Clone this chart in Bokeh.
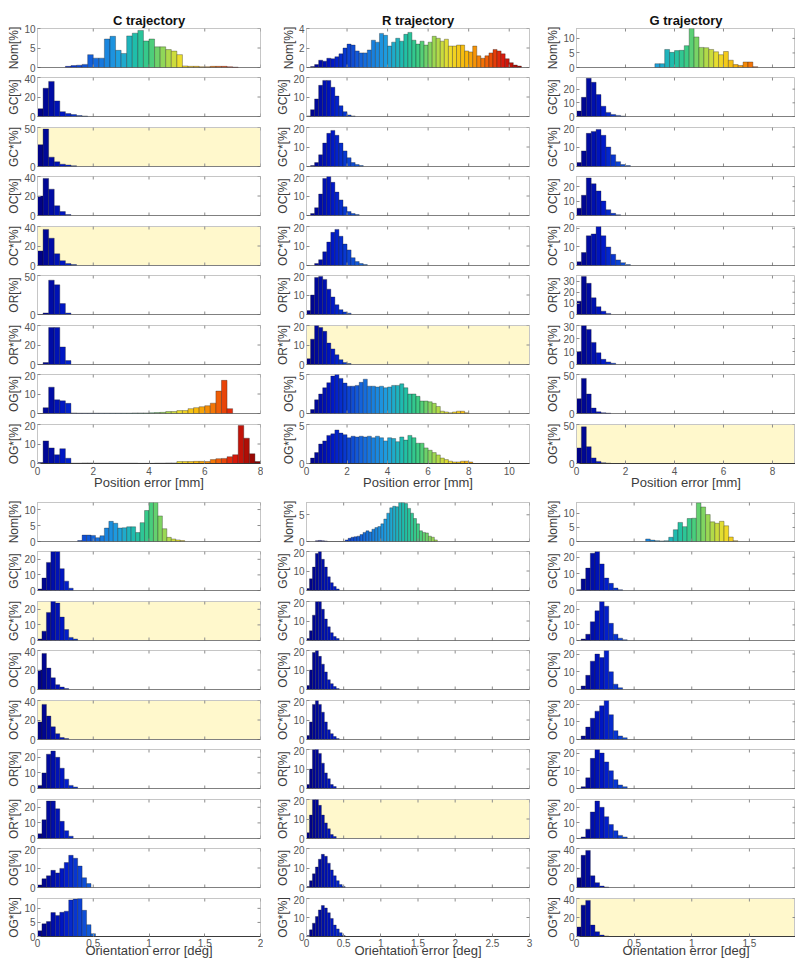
import math
from bokeh.plotting import figure
from bokeh.layouts import column, row
from bokeh.models import Range1d, FixedTicker, ColumnDataSource, Span
from bokeh.embed import file_html
from bokeh.resources import INLINE

# ---------------- labels ----------------
ROW_LABELS = ["Nom[%]", "GC[%]", "GC*[%]", "OC[%]", "OC*[%]", "OR[%]", "OR*[%]", "OG[%]", "OG*[%]"]
TITLES = ["C trajectory", "R trajectory", "G trajectory"]
POS_XLABEL = "Position error [mm]"
ORI_XLABEL = "Orientation error [deg]"

POS_BIN = 0.2
ORI_BIN = 0.04

# ---------------- Position error, C trajectory ----------------
C_POS_NOM = [0.3, 0.5, 0.6, 0.8, 3.3, 2.4, 2.4, 7.3, 8.0, 4.4, 3.6, 8.1, 8.8, 9.5, 6.8, 7.3, 5.3, 5.3, 4.6, 4.2, 3.3,
             0.4, 0.3, 0.3, 0.2, 0.2, 0.3, 0.3, 0.3, 0.2, 0.1]
C_POS_GC = [8, 29, 36, 16, 5, 3, 2, 1, 0.5]
C_POS_GCS = [28, 48, 12, 6, 3, 2, 1]
C_POS_OC = [20, 38, 27, 10, 4, 1]
C_POS_OCS = [15, 37, 28, 12, 5, 2, 1]
C_POS_OR = [0, 2, 44, 38, 14, 2]
C_POS_ORS = [0, 2, 38, 38, 18, 4]
C_POS_OG = [0, 3, 13.5, 7, 6.5, 5.2, 0.3, 0.2, 0.2, 0.2, 0.2, 0.2, 0.2, 0.2, 0.2, 0.2, 0.2,
            0.3, 0.3, 0.3, 0.4, 0.5, 0.6, 1.0, 1.0, 1.5, 1.5, 2.5, 3.0, 3.5, 4.0, 5.3, 11.5, 17, 2.5]
C_POS_OGS = [0.5, 11.6, 8, 4.5, 7.6, 2.7, 0.2, 0.2, 0.3, 0.3, 0.2, 0.2, 0.2, 0.2, 0.2, 0.2, 0.2, 0.2, 0.1,
             0.1, 0.1, 0.2, 0.2, 0.3, 0.3, 1.0, 1.0, 1.0, 1.1, 1.1, 1.0, 2.0, 2.5, 2.6, 3.5, 4.5, 19.5, 13, 5, 1]
C_POS_START = [1.0, 0, 0, 0, 0, 0, 0, 0, 0]
C_POS_YMAX = [10, 40, 50, 40, 40, 50, 40, 20, 20]
C_POS_YSTEP = [5, 20, 50, 20, 20, 50, 20, 10, 10]

# ---------------- Position error, R trajectory ----------------
R_POS_NOM = [0.1, 0.3, 0.75, 0.65, 0.95, 0.9, 1.1, 1.4, 2.0, 2.4, 2.3, 1.7, 1.5, 1.5, 1.8,
             2.8, 2.6, 3.5, 3.3, 2.2, 2.6, 3.0, 2.7, 3.4, 3.6,
             2.8, 2.4, 2.7, 2.3, 2.6, 3.2, 3.0, 2.7, 2.9, 2.2,
             2.2, 2.3, 2.3, 1.7, 1.6, 2.2, 1.2, 0.95, 1.2, 1.5,
             1.85, 1.7, 1.4, 0.9, 0.5, 0.25, 0.15]
R_POS_GC = [0.3, 3.5, 9, 16, 18.5, 18.5, 15, 10.5, 5.5, 2.5, 0.8, 0.3]
R_POS_GCS = [0.5, 2, 6, 12, 17, 18.5, 16, 12, 8, 4.5, 2, 1, 0.5]
R_POS_OC = [1, 4, 11, 19, 20, 17, 12, 8, 4.5, 2, 1, 0.5]
R_POS_OCS = [1, 3, 7, 12, 17, 18.5, 15, 11, 8, 4, 2, 1, 0.5]
R_POS_OR = [2, 10, 19, 19.5, 18, 13, 9, 5, 2.5, 1.3, 0.7]
R_POS_ORS = [3, 13, 20, 19, 17, 11, 8, 5, 2.5, 1, 0.5]
R_POS_OG = [0.5, 1.75, 2.5, 3.3, 3.95, 4.8, 5.0, 4.5, 3.9, 3.5,
            3.5, 3.6, 4.0, 4.4, 3.5, 3.5, 3.4, 3.5, 3.3, 3.4,
            3.6, 3.6, 3.8, 3.3, 2.5, 2.5, 2.2, 1.6, 1.6, 1.5,
            1.3, 0.9, 0.3, 0.2, 0.1, 0.2, 0.3, 0.3, 0.1]
R_POS_OGS = [0.7, 1.4, 2.5, 2.9, 3.6, 3.8, 4.3, 3.9, 3.7, 3.3,
             3.5, 3.4, 3.5, 3.4, 3.5, 3.3, 3.5, 3.3, 2.9, 3.3,
             3.2, 2.8, 3.4, 3.0, 3.6, 3.3, 2.6, 2.6, 2.0, 1.7,
             1.4, 1.1, 0.7, 0.5, 0.3, 0.2, 0.2, 0.3, 0.3, 0.2]
R_POS_START = [0.2, 0, 0.2, 0.2, 0.4, 0, 0, 0.2, 0.2]
R_POS_YMAX = [4, 20, 20, 20, 20, 20, 20, 5, 5]
R_POS_YSTEP = [2, 10, 10, 10, 10, 10, 10, 5, 5]

# ---------------- Position error, G trajectory ----------------
G_POS_NOM = [1.3, 1.3, 6.2, 5.2, 5.8, 5.9, 7.5, 13.4, 10.5, 6.9, 6.8, 6.2, 5.4, 4.4, 5.5, 2.5, 1.0, 0.7, 1.9, 1.9, 0.3]
G_POS_GC = [4, 14, 28, 25, 16, 7.5, 3, 1.5, 0.8, 0.3]
G_POS_GCS = [2, 8, 17, 18, 19, 16, 10, 6, 2.5, 1, 0.5]
G_POS_OC = [5, 14, 26, 22, 17, 10, 4, 1.5, 0.5]
G_POS_OCS = [2, 7, 16, 17, 21, 16, 10, 6, 3, 1.5, 0.5]
G_POS_OR = [12, 34, 28, 15, 7, 3, 1]
G_POS_ORS = [10, 30, 27, 17, 9, 4, 2, 1]
G_POS_OG = [19, 45, 25, 7, 2.2, 1, 0.5]
G_POS_OGS = [20, 47, 21.6, 7.2, 2.7, 1, 0.5]
G_POS_START = [3.2, 0, 0, 0, 0, 0, 0, 0, 0]
G_POS_YMAX = [13.4, 28.5, 20, 27, 21, 35, 30, 50, 50]
G_POS_YSTEP = [5, 10, 10, 10, 10, 10, 10, 50, 50]

# ---------------- Orientation error, C trajectory ----------------
C_ORI_NOM = [0.3, 2, 2, 1.9, 1.2, 1.8, 4.2, 6.3, 5.7, 4.2, 4.3, 4.6, 4.6, 2.8, 5.9, 9.7, 12.2, 12.2, 8, 4, 1.3, 0.8, 0.5, 0.3]
C_ORI_GC = [1, 8, 18, 25, 25, 14, 6, 1.5]
C_ORI_GCS = [1, 6, 18, 26, 24, 15, 7, 2, 1]
C_ORI_OC = [20, 37, 22, 12, 5, 2.5, 1]
C_ORI_OCS = [18, 36, 24, 13, 6, 2, 1]
C_ORI_OR = [2, 10, 22, 24, 20, 13, 6, 2, 1]
C_ORI_ORS = [3, 12, 24, 24, 19, 11, 5, 1.5]
C_ORI_OG = [1.3, 4.5, 6, 8.8, 7.5, 9.8, 12.8, 16.5, 15, 11, 5, 2]
C_ORI_OGS = [2, 4.5, 5.3, 8.5, 7.5, 8.6, 9, 13, 13.3, 13.5, 9.3, 4.2, 1]
C_ORI_START = [0.36, 0, 0, 0, 0, 0, 0, 0, 0]
C_ORI_YMAX = [12.2, 25, 25, 40, 40, 25, 25, 20, 13.5]
C_ORI_YSTEP = [5, 10, 10, 20, 20, 10, 10, 10, 5]

# ---------------- Orientation error, R trajectory ----------------
R_ORI_NOM = [0.15, 0.2, 0.15, 0.1, 0, 0, 0, 0, 0, 0,
             0.3, 0.6, 0.8, 0.9, 1.0, 1.3, 1.7, 2.0, 1.8, 2.3,
             2.6, 2.8, 3.3, 4.2, 5.3, 6.3, 6.6, 6.5, 7.3, 7.3,
             7.1, 6.2, 5.3, 4.3, 3.3, 2.0, 1.7, 1.6, 1.0, 0.8, 0.3]
R_ORI_GC = [1, 6, 12, 19, 20, 16, 12, 7, 4, 2, 0.8]
R_ORI_GCS = [1, 5, 13, 20, 20, 16, 11, 7, 4, 2, 1]
R_ORI_OC = [2, 10, 19, 20, 17, 13, 9, 5, 3, 1.5, 0.5]
R_ORI_OCS = [2, 9, 18, 20, 18, 14, 9, 5, 3, 1.5, 0.5]
R_ORI_OR = [2, 10, 20, 21, 18, 13, 8, 5, 2, 1]
R_ORI_ORS = [3, 12, 20, 20, 17, 12, 8, 5, 2, 1]
R_ORI_OG = [0.5, 3.5, 7, 10.5, 14.5, 17, 16, 12.5, 9, 6, 3.5, 1.5, 0.5]
R_ORI_OGS = [0.5, 3.5, 7, 10.5, 14, 16.3, 15, 12.5, 9.5, 6, 4, 2, 0.5]
R_ORI_START = [0.12, 0, 0, 0, 0, 0, 0, 0, 0]
R_ORI_YMAX = [7.3, 20, 20, 20, 20, 20, 20, 20, 20]
R_ORI_YSTEP = [5, 10, 10, 10, 10, 10, 10, 10, 10]

# ---------------- Orientation error, G trajectory ----------------
G_ORI_NOM = [0.9, 0.5, 0.3, 0.2, 0.3, 1.5, 4.2, 6.8, 5.3, 8.2, 8.3, 13.8, 12.3, 9.6, 7.0, 6.5, 7.2, 5.6, 1.6, 0.3]
G_ORI_GC = [0.5, 7, 13.5, 22.5, 23.5, 16, 7.5, 4.3, 1.5, 0.5]
G_ORI_GCS = [1, 4, 12, 19, 25, 22, 11, 4, 1.5, 0.5]
G_ORI_OC = [2, 8, 16, 20, 18, 22, 10, 3, 1]
G_ORI_OCS = [2, 7, 12, 16, 19, 22, 14, 5, 2, 1]
G_ORI_OR = [1, 6, 17, 22, 20, 15, 10, 5, 2, 1]
G_ORI_ORS = [1, 6, 17, 24, 20, 14, 9, 5, 2, 1]
G_ORI_OG = [10, 33, 38, 12, 5, 1.5, 0.5]
G_ORI_OGS = [10, 33, 38, 12, 5, 1.5, 0.5]
G_ORI_START = [0.60, 0, 0.04, 0.04, 0.04, 0.04, 0.04, 0, 0]
G_ORI_YMAX = [13.9, 23.5, 25, 22, 22, 22, 25, 40, 40]
G_ORI_YSTEP = [5, 10, 10, 10, 10, 10, 10, 20, 20]

# highlighted (yellow) panels: row indices per column
C_POS_HL = [2, 4]
R_POS_HL = [6]
G_POS_HL = [8]
C_ORI_HL = [2, 4]
R_ORI_HL = [6]
G_ORI_HL = [8]

POS_XMAX = [8, 11, 8.94]
ORI_XMAX = [2, 3, 1.9]
POS_CMAX = [8, 11, 9]
ORI_CMAX = [2, 3, 2]
POS_XTICKS = [[0, 2, 4, 6, 8], [0, 2, 4, 6, 8, 10], [0, 2, 4, 6, 8]]
ORI_XTICKS = [[0, 0.5, 1, 1.5, 2], [0, 0.5, 1, 1.5, 2, 2.5, 3], [0, 0.5, 1, 1.5]]

# colour map anchors (jet-like, as rendered in the reference)
CMAP_T = [0.0, 0.12, 0.25, 0.36, 0.44, 0.5, 0.57, 0.64, 0.72, 0.8, 0.88, 1.0]
CMAP_C = ["#00007f", "#0018c8", "#1466dc", "#1f9fe0", "#1fbfa8", "#3ccc84", "#9ad854",
          "#eede2c", "#f8b408", "#f26a06", "#dc1a0c", "#7c0000"]

# ---------------- layout constants ----------------
FONT = "Liberation Sans"
FRAME_H = 39
COL_W = [263, 270, 262]
COL_BL = [37, 43, 43]
COL_BR = [3, 4, 0]
ROW_TOP = [28, 3, 3, 3, 3, 3, 3, 3, 3, 9, 3, 3, 3, 3, 3, 3, 3, 3]
ROW_BOT = [7, 8, 7, 8, 7, 8, 7, 8, 30, 7, 8, 7, 8, 7, 8, 7, 8, 23]
YELLOW = "#fff8cc"
TICK_COLOR = "#8c8c8c"


def hex2rgb(h):
    return [int(h[i:i + 2], 16) for i in (1, 3, 5)]


def cmap(t):
    t = min(max(t, 0.0), 1.0)
    for i in range(len(CMAP_T) - 1):
        if t <= CMAP_T[i + 1]:
            f = (t - CMAP_T[i]) / (CMAP_T[i + 1] - CMAP_T[i])
            a, b = hex2rgb(CMAP_C[i]), hex2rgb(CMAP_C[i + 1])
            return "#%02x%02x%02x" % tuple(int(round(a[k] + (b[k] - a[k]) * f)) for k in range(3))
    return CMAP_C[-1]


def fmt(v):
    return "%g" % v


def make_panel(vals, start, binw, xmax, cmax, ymax, ystep, label, yellow, col, ri,
               xticks, title=None, xlabel=None):
    h = ROW_TOP[ri] + FRAME_H + ROW_BOT[ri]
    p = figure(width=COL_W[col], height=h, x_range=Range1d(0, xmax), y_range=Range1d(0, ymax),
               output_backend="svg", toolbar_location=None, title=title,
               min_border_left=COL_BL[col], min_border_right=COL_BR[col],
               min_border_top=ROW_TOP[ri], min_border_bottom=ROW_BOT[ri],
               background_fill_color=YELLOW if yellow else "white",
               border_fill_color="white", outline_line_color="#c6c6c6")
    p.xgrid.visible = False
    p.ygrid.visible = False

    n = len(vals)
    left = [start + i * binw for i in range(n)]
    right = [l + binw for l in left]
    colors = [cmap((l + binw / 2) / cmax) for l in left]
    src = ColumnDataSource(dict(left=left, right=right, top=vals, bottom=[0] * n, color=colors))
    p.quad(left="left", right="right", top="top", bottom="bottom", source=src,
           fill_color="color", line_color="#1c1c1c", line_alpha=0.55, line_width=0.6)

    yt = []
    v = 0
    while v <= ymax + 1e-9:
        yt.append(v)
        v += ystep
    yticker = FixedTicker(ticks=yt)
    xticker = FixedTicker(ticks=xticks)

    ya = p.yaxis[0]
    ya.ticker = yticker
    ya.axis_label = label
    ya.axis_label_text_font = FONT
    ya.axis_label_text_font_size = "12px"
    ya.axis_label_text_font_style = "normal"
    ya.axis_label_text_color = "#3c3c3c"
    ya.axis_label_standoff = 0
    ya.major_label_text_font = FONT
    ya.major_label_text_font_size = "10px"
    ya.major_label_text_color = "#555555"
    ya.major_label_standoff = 2
    ya.major_tick_in = 3
    ya.major_tick_out = 0
    ya.minor_tick_line_color = None
    ya.major_tick_line_color = TICK_COLOR
    ya.axis_line_color = "#c6c6c6"
    ya.major_label_overrides = {t: fmt(t) for t in yt}

    xa = p.xaxis[0]
    if xlabel is None:
        xa.visible = False
        p.add_layout(Span(location=0, dimension="width", line_color="#3a3a3a", line_width=1.2))
        # inner tick marks on the bottom edge
        p.scatter(x=xticks, y=[0] * len(xticks), marker="dash", angle=math.pi / 2, size=6,
                  line_color=TICK_COLOR, line_width=1)
    else:
        xa.ticker = xticker
        xa.major_tick_in = 3
        xa.major_tick_out = 0
        xa.minor_tick_line_color = None
        xa.major_tick_line_color = TICK_COLOR
        xa.axis_line_color = "#3a3a3a"
        xa.axis_line_width = 1.2
        xa.major_label_text_font = FONT
        xa.major_label_text_font_size = "10px"
        xa.major_label_text_color = "#555555"
        xa.major_label_standoff = 3 if ri == 8 else 2
        xa.major_label_overrides = {t: fmt(t) for t in xticks}
        xa.axis_label = xlabel
        xa.axis_label_text_font = FONT
        xa.axis_label_text_font_size = "13px"
        xa.axis_label_text_font_style = "normal"
        xa.axis_label_text_color = "#3c3c3c"
        xa.axis_label_standoff = -3 if ri == 8 else -7

    # inner tick marks on the top and right edges (box on)
    p.scatter(x=xticks, y=[ymax] * len(xticks), marker="dash", angle=math.pi / 2, size=6,
              line_color=TICK_COLOR, line_width=1)
    p.scatter(x=[xmax] * len(yt), y=yt, marker="dash", size=6,
              line_color=TICK_COLOR, line_width=1)

    if title is not None:
        p.title.text_font = FONT
        p.title.text_font_size = "13px"
        p.title.text_font_style = "bold"
        p.title.text_color = "#111111"
        p.title.align = "center"
        p.title.standoff = 2
        p.title.offset = 0
    return p


POS_COLS = [
    ([C_POS_NOM, C_POS_GC, C_POS_GCS, C_POS_OC, C_POS_OCS, C_POS_OR, C_POS_ORS, C_POS_OG, C_POS_OGS],
     C_POS_START, C_POS_YMAX, C_POS_YSTEP, C_POS_HL),
    ([R_POS_NOM, R_POS_GC, R_POS_GCS, R_POS_OC, R_POS_OCS, R_POS_OR, R_POS_ORS, R_POS_OG, R_POS_OGS],
     R_POS_START, R_POS_YMAX, R_POS_YSTEP, R_POS_HL),
    ([G_POS_NOM, G_POS_GC, G_POS_GCS, G_POS_OC, G_POS_OCS, G_POS_OR, G_POS_ORS, G_POS_OG, G_POS_OGS],
     G_POS_START, G_POS_YMAX, G_POS_YSTEP, G_POS_HL),
]
ORI_COLS = [
    ([C_ORI_NOM, C_ORI_GC, C_ORI_GCS, C_ORI_OC, C_ORI_OCS, C_ORI_OR, C_ORI_ORS, C_ORI_OG, C_ORI_OGS],
     C_ORI_START, C_ORI_YMAX, C_ORI_YSTEP, C_ORI_HL),
    ([R_ORI_NOM, R_ORI_GC, R_ORI_GCS, R_ORI_OC, R_ORI_OCS, R_ORI_OR, R_ORI_ORS, R_ORI_OG, R_ORI_OGS],
     R_ORI_START, R_ORI_YMAX, R_ORI_YSTEP, R_ORI_HL),
    ([G_ORI_NOM, G_ORI_GC, G_ORI_GCS, G_ORI_OC, G_ORI_OCS, G_ORI_OR, G_ORI_ORS, G_ORI_OG, G_ORI_OGS],
     G_ORI_START, G_ORI_YMAX, G_ORI_YSTEP, G_ORI_HL),
]

rows = []
for gi, (cols, binw, xmaxs, cmaxs, xticks_all, xlabel) in enumerate([
        (POS_COLS, POS_BIN, POS_XMAX, POS_CMAX, POS_XTICKS, POS_XLABEL),
        (ORI_COLS, ORI_BIN, ORI_XMAX, ORI_CMAX, ORI_XTICKS, ORI_XLABEL)]):
    for r in range(9):
        ri = gi * 9 + r
        figs = []
        for c in range(3):
            series, starts, ymaxs, ysteps, hl = cols[c]
            figs.append(make_panel(series[r], starts[r], binw, xmaxs[c], cmaxs[c], ymaxs[r], ysteps[r],
                                   ROW_LABELS[r], r in hl, c, ri, xticks_all[c],
                                   title=TITLES[c] if ri == 0 else None,
                                   xlabel=xlabel if r == 8 else None))
        rows.append(row(*figs, spacing=0))

layout = column(*rows, spacing=0)
open("out.html", "w").write(file_html(layout, INLINE))
